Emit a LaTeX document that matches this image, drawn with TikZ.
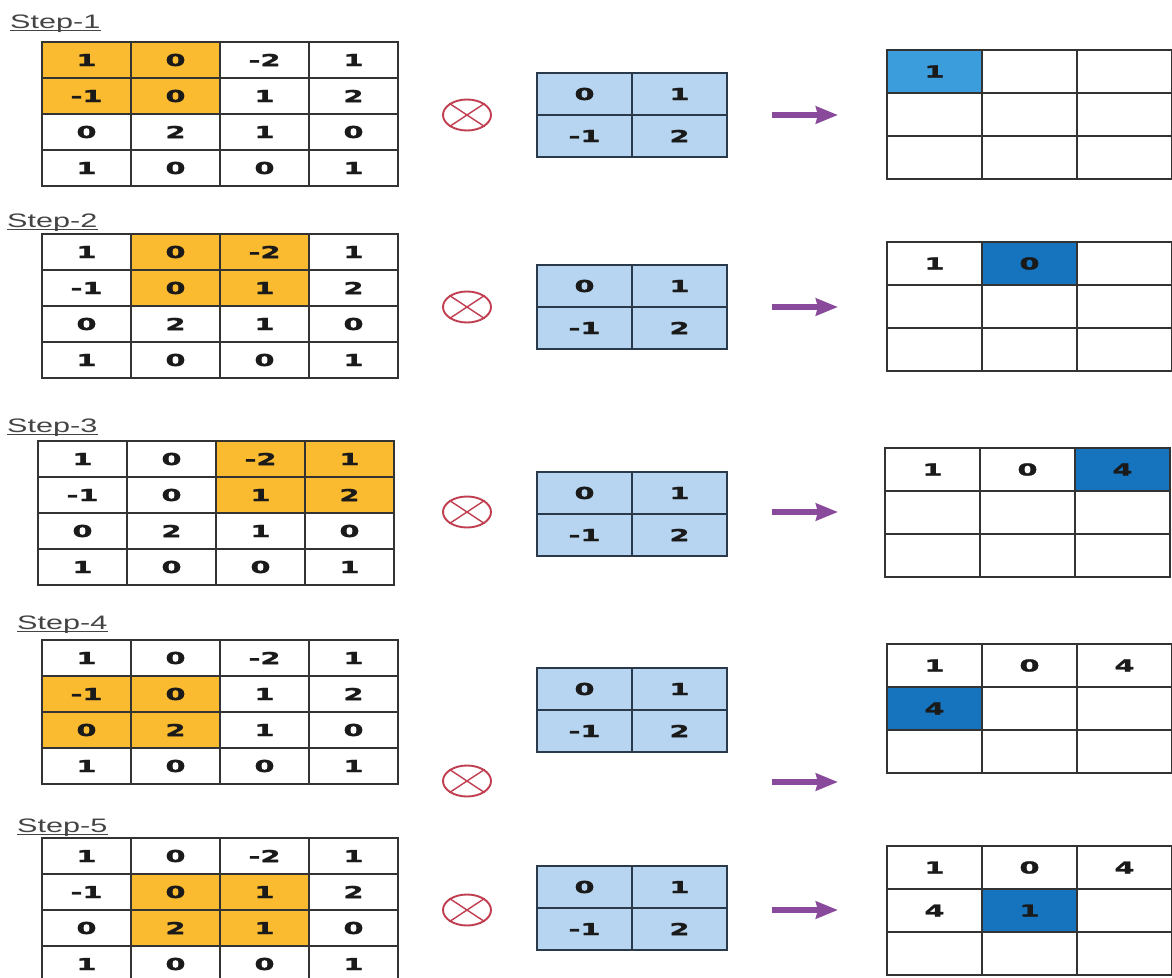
\documentclass[tikz,border=0pt]{standalone}
\usepackage{fontspec}
\usetikzlibrary{arrows.meta, shapes.geometric}
\newfontfamily\cellfont{DejaVu Sans}[FakeStretch=1.75, BoldFeatures={FakeBold=1.6}]
\newfontfamily\stepfont{Liberation Sans}[FakeStretch=1.57]
\definecolor{amber}{HTML}{FBBB30}
\definecolor{kblue}{HTML}{B7D5F0}
\definecolor{firstblue}{HTML}{3C9DDD}
\definecolor{deepblue}{HTML}{1574BD}
\definecolor{gridline}{HTML}{333333}
\definecolor{kline}{HTML}{2B3A4A}
\definecolor{ink}{HTML}{1A1A1A}
\definecolor{labelgray}{HTML}{444444}
\definecolor{opred}{HTML}{C03E50}
\definecolor{flowpurple}{HTML}{8A4A9C}

\begin{document}
\begin{tikzpicture}[x=1pt, y=-1pt, >={Stealth[length=22pt, width=17pt, inset=2pt]},
  incell/.style={draw=gridline, line width=2pt, minimum width=89pt,
    minimum height=36pt, inner sep=0pt, text=ink,
    font=\cellfont\bfseries\fontsize{16.5}{18}\selectfont},
  kcell/.style={incell, draw=kline, fill=kblue, minimum width=95pt, minimum height=42pt},
  outcell/.style={incell, minimum width=95pt, minimum height=43pt},
  win/.style={fill=amber},
  hit/.style={fill=deepblue},
  steplabel/.style={anchor=base west, inner sep=0pt, text=labelgray,
    font=\stepfont\fontsize{19.5}{22}\selectfont},
  underl/.style={labelgray, line width=1.2pt},
  opmark/.style={ellipse, draw=opred, line width=1.9pt, minimum width=48pt,
    minimum height=31pt, inner sep=0pt},
  opcross/.style={opred, line width=1.4pt},
  flow/.style={flowpurple, line width=5.5pt}]

% Background
\fill[white] (0,0) rectangle (1172,977);
\useasboundingbox (0,0) rectangle (1172,977);

% ================================================================
% STEP 1
% ================================================================
\node[steplabel] (lbl1) at (10,28) {Step-1};
\draw[underl] ([yshift=-2.5pt]lbl1.base west) -- ([yshift=-2.5pt]lbl1.base east);

% Input (window top-left)
\node[incell, win] (s1-a11) at (86.5,60) {1}; \node[incell, win] (s1-a12) at (175.5,60) {0}; \node[incell] (s1-a13) at (264.5,60) {-2}; \node[incell] (s1-a14) at (353.5,60) {1};
\node[incell, win] (s1-a21) at (86.5,96) {-1}; \node[incell, win] (s1-a22) at (175.5,96) {0}; \node[incell] (s1-a23) at (264.5,96) {1}; \node[incell] (s1-a24) at (353.5,96) {2};
\node[incell] (s1-a31) at (86.5,132) {0}; \node[incell] (s1-a32) at (175.5,132) {2}; \node[incell] (s1-a33) at (264.5,132) {1}; \node[incell] (s1-a34) at (353.5,132) {0};
\node[incell] (s1-a41) at (86.5,168) {1}; \node[incell] (s1-a42) at (175.5,168) {0}; \node[incell] (s1-a43) at (264.5,168) {0}; \node[incell] (s1-a44) at (353.5,168) {1};

% Operator and kernel
\node[opmark] (op1) at (467,115) {};
\draw[opcross] (op1.north west) -- (op1.south east) (op1.north east) -- (op1.south west);
\node[kcell] (s1-k11) at (584.5,94) {0}; \node[kcell] (s1-k12) at (679.5,94) {1};
\node[kcell] (s1-k21) at (584.5,136) {-1}; \node[kcell] (s1-k22) at (679.5,136) {2};

% Arrow
\coordinate (ar1-s) at (772,115);
\coordinate (ar1-e) at (838,115);
\draw[flow, ->] (ar1-s) -- (ar1-e);

% Output
\node[outcell, fill=firstblue] (s1-o11) at (934.5,71.5) {1}; \node[outcell] (s1-o12) at (1029.5,71.5) {}; \node[outcell] (s1-o13) at (1124.5,71.5) {};
\node[outcell] (s1-o21) at (934.5,114.5) {}; \node[outcell] (s1-o22) at (1029.5,114.5) {}; \node[outcell] (s1-o23) at (1124.5,114.5) {};
\node[outcell] (s1-o31) at (934.5,157.5) {}; \node[outcell] (s1-o32) at (1029.5,157.5) {}; \node[outcell] (s1-o33) at (1124.5,157.5) {};

% ================================================================
% STEP 2
% ================================================================
\node[steplabel] (lbl2) at (7,227) {Step-2};
\draw[underl] ([yshift=-2.5pt]lbl2.base west) -- ([yshift=-2.5pt]lbl2.base east);

% Input (window moved one column right)
\node[incell] (s2-a11) at (86.5,252) {1}; \node[incell, win] (s2-a12) at (175.5,252) {0}; \node[incell, win] (s2-a13) at (264.5,252) {-2}; \node[incell] (s2-a14) at (353.5,252) {1};
\node[incell] (s2-a21) at (86.5,288) {-1}; \node[incell, win] (s2-a22) at (175.5,288) {0}; \node[incell, win] (s2-a23) at (264.5,288) {1}; \node[incell] (s2-a24) at (353.5,288) {2};
\node[incell] (s2-a31) at (86.5,324) {0}; \node[incell] (s2-a32) at (175.5,324) {2}; \node[incell] (s2-a33) at (264.5,324) {1}; \node[incell] (s2-a34) at (353.5,324) {0};
\node[incell] (s2-a41) at (86.5,360) {1}; \node[incell] (s2-a42) at (175.5,360) {0}; \node[incell] (s2-a43) at (264.5,360) {0}; \node[incell] (s2-a44) at (353.5,360) {1};

\node[opmark] (op2) at (467,307) {};
\draw[opcross] (op2.north west) -- (op2.south east) (op2.north east) -- (op2.south west);
\node[kcell] (s2-k11) at (584.5,286) {0}; \node[kcell] (s2-k12) at (679.5,286) {1};
\node[kcell] (s2-k21) at (584.5,328) {-1}; \node[kcell] (s2-k22) at (679.5,328) {2};

\coordinate (ar2-s) at (772,307);
\coordinate (ar2-e) at (838,307);
\draw[flow, ->] (ar2-s) -- (ar2-e);

\node[outcell] (s2-o11) at (934.5,263.5) {1}; \node[outcell, hit] (s2-o12) at (1029.5,263.5) {0}; \node[outcell] (s2-o13) at (1124.5,263.5) {};
\node[outcell] (s2-o21) at (934.5,306.5) {}; \node[outcell] (s2-o22) at (1029.5,306.5) {}; \node[outcell] (s2-o23) at (1124.5,306.5) {};
\node[outcell] (s2-o31) at (934.5,349.5) {}; \node[outcell] (s2-o32) at (1029.5,349.5) {}; \node[outcell] (s2-o33) at (1124.5,349.5) {};

% ================================================================
% STEP 3
% ================================================================
\node[steplabel] (lbl3) at (7,432) {Step-3};
\draw[underl] ([yshift=-2.5pt]lbl3.base west) -- ([yshift=-2.5pt]lbl3.base east);

% Input (window at top-right)
\node[incell] (s3-a11) at (82.5,459) {1}; \node[incell] (s3-a12) at (171.5,459) {0}; \node[incell, win] (s3-a13) at (260.5,459) {-2}; \node[incell, win] (s3-a14) at (349.5,459) {1};
\node[incell] (s3-a21) at (82.5,495) {-1}; \node[incell] (s3-a22) at (171.5,495) {0}; \node[incell, win] (s3-a23) at (260.5,495) {1}; \node[incell, win] (s3-a24) at (349.5,495) {2};
\node[incell] (s3-a31) at (82.5,531) {0}; \node[incell] (s3-a32) at (171.5,531) {2}; \node[incell] (s3-a33) at (260.5,531) {1}; \node[incell] (s3-a34) at (349.5,531) {0};
\node[incell] (s3-a41) at (82.5,567) {1}; \node[incell] (s3-a42) at (171.5,567) {0}; \node[incell] (s3-a43) at (260.5,567) {0}; \node[incell] (s3-a44) at (349.5,567) {1};

\node[opmark] (op3) at (467,512) {};
\draw[opcross] (op3.north west) -- (op3.south east) (op3.north east) -- (op3.south west);
\node[kcell] (s3-k11) at (584.5,493) {0}; \node[kcell] (s3-k12) at (679.5,493) {1};
\node[kcell] (s3-k21) at (584.5,535) {-1}; \node[kcell] (s3-k22) at (679.5,535) {2};

\coordinate (ar3-s) at (772,512);
\coordinate (ar3-e) at (838,512);
\draw[flow, ->] (ar3-s) -- (ar3-e);

\node[outcell] (s3-o11) at (932.5,469.5) {1}; \node[outcell] (s3-o12) at (1027.5,469.5) {0}; \node[outcell, hit] (s3-o13) at (1122.5,469.5) {4};
\node[outcell] (s3-o21) at (932.5,512.5) {}; \node[outcell] (s3-o22) at (1027.5,512.5) {}; \node[outcell] (s3-o23) at (1122.5,512.5) {};
\node[outcell] (s3-o31) at (932.5,555.5) {}; \node[outcell] (s3-o32) at (1027.5,555.5) {}; \node[outcell] (s3-o33) at (1122.5,555.5) {};

% ================================================================
% STEP 4
% ================================================================
\node[steplabel] (lbl4) at (17,629) {Step-4};
\draw[underl] ([yshift=-2.5pt]lbl4.base west) -- ([yshift=-2.5pt]lbl4.base east);

% Input (window one row down, left)
\node[incell] (s4-a11) at (86.5,658) {1}; \node[incell] (s4-a12) at (175.5,658) {0}; \node[incell] (s4-a13) at (264.5,658) {-2}; \node[incell] (s4-a14) at (353.5,658) {1};
\node[incell, win] (s4-a21) at (86.5,694) {-1}; \node[incell, win] (s4-a22) at (175.5,694) {0}; \node[incell] (s4-a23) at (264.5,694) {1}; \node[incell] (s4-a24) at (353.5,694) {2};
\node[incell, win] (s4-a31) at (86.5,730) {0}; \node[incell, win] (s4-a32) at (175.5,730) {2}; \node[incell] (s4-a33) at (264.5,730) {1}; \node[incell] (s4-a34) at (353.5,730) {0};
\node[incell] (s4-a41) at (86.5,766) {1}; \node[incell] (s4-a42) at (175.5,766) {0}; \node[incell] (s4-a43) at (264.5,766) {0}; \node[incell] (s4-a44) at (353.5,766) {1};

% here the operator and arrow sit lower than the kernel
\node[opmark] (op4) at (467,781) {};
\draw[opcross] (op4.north west) -- (op4.south east) (op4.north east) -- (op4.south west);
\node[kcell] (s4-k11) at (584.5,689) {0}; \node[kcell] (s4-k12) at (679.5,689) {1};
\node[kcell] (s4-k21) at (584.5,731) {-1}; \node[kcell] (s4-k22) at (679.5,731) {2};

\coordinate (ar4-s) at (772,782);
\coordinate (ar4-e) at (838,782);
\draw[flow, ->] (ar4-s) -- (ar4-e);

\node[outcell] (s4-o11) at (934.5,665.5) {1}; \node[outcell] (s4-o12) at (1029.5,665.5) {0}; \node[outcell] (s4-o13) at (1124.5,665.5) {4};
\node[outcell, hit] (s4-o21) at (934.5,708.5) {4}; \node[outcell] (s4-o22) at (1029.5,708.5) {}; \node[outcell] (s4-o23) at (1124.5,708.5) {};
\node[outcell] (s4-o31) at (934.5,751.5) {}; \node[outcell] (s4-o32) at (1029.5,751.5) {}; \node[outcell] (s4-o33) at (1124.5,751.5) {};

% ================================================================
% STEP 5
% ================================================================
\node[steplabel] (lbl5) at (17,832) {Step-5};
\draw[underl] ([yshift=-2.5pt]lbl5.base west) -- ([yshift=-2.5pt]lbl5.base east);

% Input (window in the middle)
\node[incell] (s5-a11) at (86.5,856) {1}; \node[incell] (s5-a12) at (175.5,856) {0}; \node[incell] (s5-a13) at (264.5,856) {-2}; \node[incell] (s5-a14) at (353.5,856) {1};
\node[incell] (s5-a21) at (86.5,892) {-1}; \node[incell, win] (s5-a22) at (175.5,892) {0}; \node[incell, win] (s5-a23) at (264.5,892) {1}; \node[incell] (s5-a24) at (353.5,892) {2};
\node[incell] (s5-a31) at (86.5,928) {0}; \node[incell, win] (s5-a32) at (175.5,928) {2}; \node[incell, win] (s5-a33) at (264.5,928) {1}; \node[incell] (s5-a34) at (353.5,928) {0};
\node[incell] (s5-a41) at (86.5,964) {1}; \node[incell] (s5-a42) at (175.5,964) {0}; \node[incell] (s5-a43) at (264.5,964) {0}; \node[incell] (s5-a44) at (353.5,964) {1};

\node[opmark] (op5) at (467,910) {};
\draw[opcross] (op5.north west) -- (op5.south east) (op5.north east) -- (op5.south west);
\node[kcell] (s5-k11) at (584.5,887) {0}; \node[kcell] (s5-k12) at (679.5,887) {1};
\node[kcell] (s5-k21) at (584.5,929) {-1}; \node[kcell] (s5-k22) at (679.5,929) {2};

\coordinate (ar5-s) at (772,910);
\coordinate (ar5-e) at (838,910);
\draw[flow, ->] (ar5-s) -- (ar5-e);

\node[outcell] (s5-o11) at (934.5,867.5) {1}; \node[outcell] (s5-o12) at (1029.5,867.5) {0}; \node[outcell] (s5-o13) at (1124.5,867.5) {4};
\node[outcell] (s5-o21) at (934.5,910.5) {4}; \node[outcell, hit] (s5-o22) at (1029.5,910.5) {1}; \node[outcell] (s5-o23) at (1124.5,910.5) {};
\node[outcell] (s5-o31) at (934.5,953.5) {}; \node[outcell] (s5-o32) at (1029.5,953.5) {}; \node[outcell] (s5-o33) at (1124.5,953.5) {};

\end{tikzpicture}
\end{document}
